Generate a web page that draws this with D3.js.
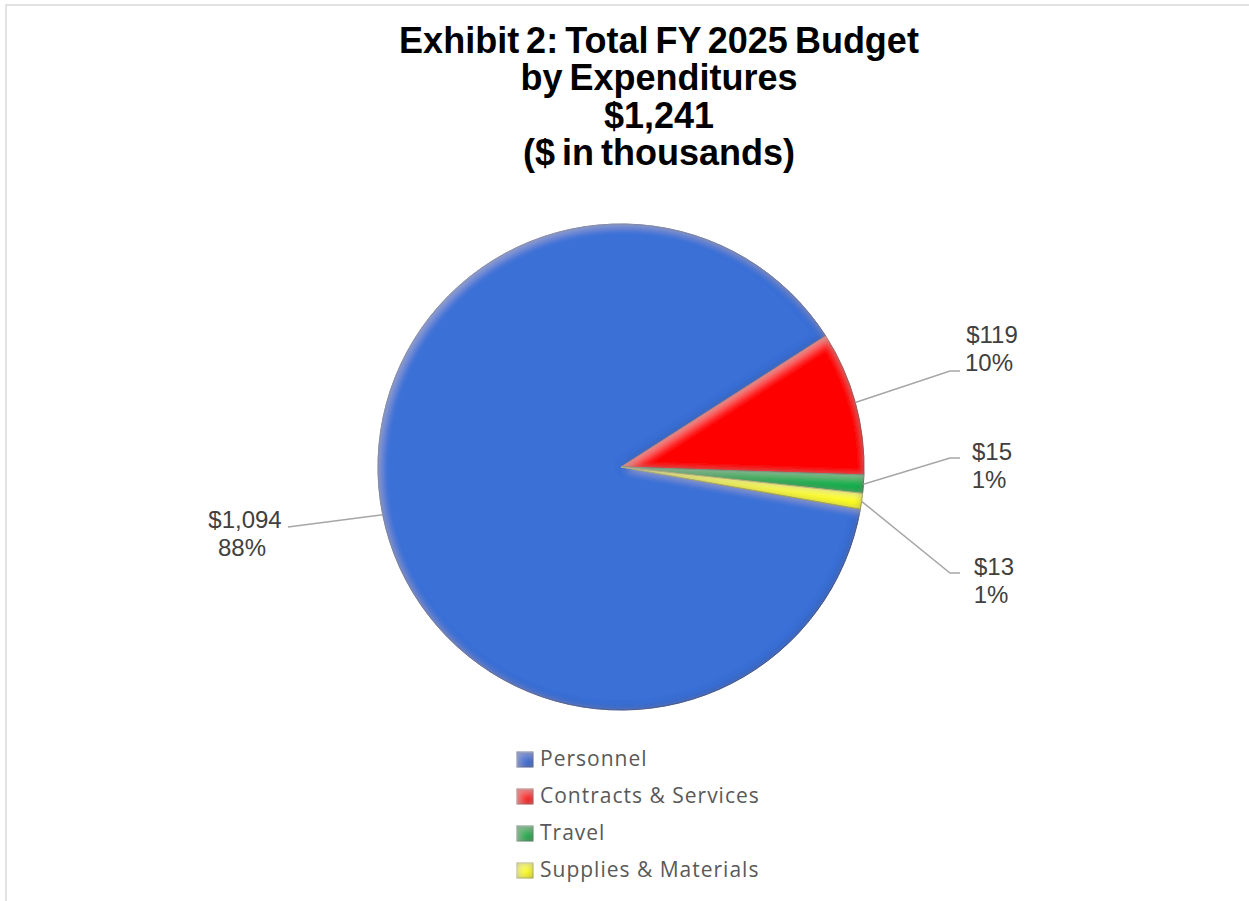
<!DOCTYPE html>
<html>
<head>
<meta charset="utf-8">
<script src="https://cdn.jsdelivr.net/npm/d3@7"></script>
<style>
  body { margin: 0; background: #fff; }
  #container { width: 1249px; height: 901px; }
</style>
</head>
<body>
<div id="container"></div>
<script>
const categories = ["Personnel", "Contracts & Services", "Travel", "Supplies & Materials"];
const values = [1094, 119, 15, 13];
const valueLabels = ["$1,094", "$119", "$15", "$13"];
const pctLabels = ["88%", "10%", "1%", "1%"];
const colors = ["#3b70d6", "#ff0000", "#00b050", "#ffff00"];
const titleLines = ["Exhibit 2: Total FY 2025 Budget", "by Expenditures", "$1,241", "($ in thousands)"];

const width = 1249, height = 901;
const cx = 621, cy = 467, radius = 243;
const firstSliceAngle = 100; // degrees, clockwise from top

// label placement (elbow x, elbow y, end x, text centre x, first baseline)
const labelLayout = [
    {ex: 288, ey: 527, tx: 245, ty: 528, elbow: false},
    {ex: 950, ey: 371, end: 960, tx: 992, ty: 343, elbow: true},
    {ex: 950, ey: 458, end: 960, tx: 992, ty: 460, elbow: true},
    {ex: 950, ey: 573, end: 960, tx: 994, ty: 575, elbow: true}
];

const svg = d3.select("#container").append("svg")
    .attr("width", width)
    .attr("height", height);

const defs = svg.append("defs");

// soft bevel: inner dark edge plus light inner highlight
const bevel = defs.append("filter").attr("id", "bevel")
    .attr("x", "-10%").attr("y", "-10%").attr("width", "120%").attr("height", "120%");
bevel.append("feGaussianBlur").attr("in", "SourceAlpha").attr("stdDeviation", 4.5).attr("result", "blur");
bevel.append("feComposite").attr("in", "SourceAlpha").attr("in2", "blur").attr("operator", "out").attr("result", "edge");
bevel.append("feFlood").attr("flood-color", "#000").attr("flood-opacity", 0.7).attr("result", "dark");
bevel.append("feComposite").attr("in", "dark").attr("in2", "edge").attr("operator", "in").attr("result", "shadow");
bevel.append("feOffset").attr("in", "blur").attr("dx", 3).attr("dy", 3).attr("result", "blurOff");
bevel.append("feComposite").attr("in", "SourceAlpha").attr("in2", "blurOff").attr("operator", "out").attr("result", "hiEdge");
bevel.append("feFlood").attr("flood-color", "#fff").attr("flood-opacity", 0.3).attr("result", "light");
bevel.append("feComposite").attr("in", "light").attr("in2", "hiEdge").attr("operator", "in").attr("result", "highlight");
const merge = bevel.append("feMerge");
merge.append("feMergeNode").attr("in", "SourceGraphic");
merge.append("feMergeNode").attr("in", "shadow");
merge.append("feMergeNode").attr("in", "highlight");

// frame
svg.append("path")
    .attr("d", `M6,${height} V5 H${width}`)
    .attr("fill", "none")
    .attr("stroke", "#d9d9d9")
    .attr("stroke-width", 1.5);

// title
svg.append("g")
    .selectAll("text")
    .data(titleLines)
    .enter()
    .append("text")
    .attr("x", 659)
    .attr("y", (d, i) => 53 + i * 37.3)
    .attr("text-anchor", "middle")
    .attr("font-family", "Liberation Sans, Arial, sans-serif")
    .attr("font-weight", "bold")
    .attr("font-size", "36px")
    .attr("word-spacing", "-3px")
    .attr("fill", "#000")
    .text(d => d);

const pie = d3.pie()
    .sort(null)
    .startAngle(firstSliceAngle * Math.PI / 180)
    .endAngle(firstSliceAngle * Math.PI / 180 + 2 * Math.PI);

const arcs = pie(values);

const arc = d3.arc()
    .innerRadius(0)
    .outerRadius(radius);

const pieG = svg.append("g")
    .attr("transform", `translate(${cx}, ${cy})`);

pieG.selectAll("path")
    .data(arcs)
    .enter()
    .append("path")
    .attr("d", arc)
    .attr("fill", (d, i) => colors[i])
    .attr("stroke", (d, i) => d3.color(colors[i]).darker(1))
    .attr("stroke-width", 1)
    .attr("filter", "url(#bevel)");

// leader lines and labels
arcs.forEach((d, i) => {
    const mid = (d.startAngle + d.endAngle) / 2;
    const sx = cx + radius * Math.sin(mid);
    const sy = cy - radius * Math.cos(mid);
    const L = labelLayout[i];
    let pts = [[sx, sy], [L.ex, L.ey]];
    if (L.elbow) pts.push([L.end, L.ey]);

    svg.append("path")
        .attr("d", d3.line()(pts))
        .attr("fill", "none")
        .attr("stroke", "#a6a6a6")
        .attr("stroke-width", 1.5);

    const t = svg.append("text")
        .attr("text-anchor", "middle")
        .attr("font-family", "Liberation Sans, Arial, sans-serif")
        .attr("font-size", "24px")
        .attr("fill", "#404040");
    t.append("tspan").attr("x", L.tx).attr("y", L.ty).text(valueLabels[i]);
    t.append("tspan").attr("x", L.tx - 3).attr("y", L.ty + 28).text(pctLabels[i]);
});

// legend
const legend = svg.append("g")
    .attr("transform", "translate(517, 752)");

const rows = legend.selectAll("g")
    .data(categories)
    .enter()
    .append("g")
    .attr("transform", (d, i) => `translate(0, ${i * 37})`);

rows.append("rect")
    .attr("width", 16)
    .attr("height", 15)
    .attr("fill", (d, i) => colors[i])
    .attr("stroke", (d, i) => d3.color(colors[i]).darker(0.8))
    .attr("stroke-width", 0.8)
    .attr("filter", "url(#bevel)");

rows.append("text")
    .attr("x", 23)
    .attr("y", 14)
    .attr("font-family", "Open Sans, Noto Sans, sans-serif")
    .attr("font-size", "21px")
    .attr("letter-spacing", "1px")
    .attr("fill", "#595959")
    .text(d => d);
</script>
</body>
</html>
